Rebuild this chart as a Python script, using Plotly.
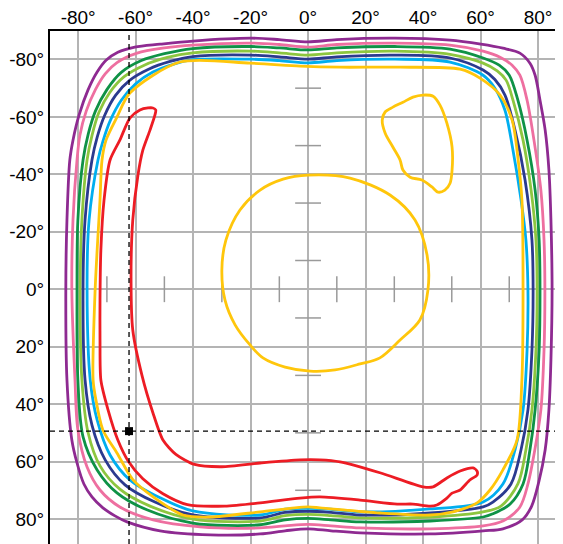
import plotly.graph_objects as go

# ---- data (degrees) ----
tick_vals = [-80, -60, -40, -20, 0, 20, 40, 60, 80]
tick_text = ["-80°", "-60°", "-40°", "-20°", "0°", "20°", "40°", "60°", "80°"]
cross_ticks = [-70, -50, -30, -10, 10, 30, 50, 70]
cross_half = 4.5
marker_x = [-62.3]
marker_y = [49.4]

purple_x = [-82.9,-81.8,-79.7,-76.6,-73.4,-70.3,-66.2,-60.3,-51.5,-40.1,-19.9,-10,0,10,30.2,49.4,60.1,67.8,73.7,77.2,79.0,80.7,82.5,83.8,84.5,84.9,84.5,83.8,82.5,80.3,77.8,74.6,67.8,60.9,42.5,18.1,8,0,-8,-16.7,-34.1,-51.5,-63.0,-67.2,-71.4,-75.2,-78.0,-80.4,-82.2,-83.9,-84.3,-83.9]
purple_y = [-45.0,-51.9,-60.6,-69.3,-75.6,-79.7,-82.5,-84.3,-85.3,-86.4,-87.4,-86.9,-86.1,-86.9,-87.4,-86.7,-85.3,-83.9,-82.2,-78.7,-74.5,-65.8,-55.4,-41.5,-24.1,0.3,24.6,42.0,55.9,67.0,75.5,80.2,83.4,84.1,85.2,84.8,84.1,83.4,84.1,85.2,85.5,84.1,81.0,78.9,76.1,72.3,67.8,60.5,52.5,31.6,0.3,-24.1]

pink_x = [-80.4,-79.4,-77.2,-74.0,-70.6,-66.5,-59.5,-50.0,-40.1,-19.9,-10,0,10,30.2,49.4,60.9,66.8,71.0,73.7,76.2,78.6,81.0,82.1,82.4,82.1,81.0,78.9,76.5,73.7,67.8,60.9,42.5,18.1,8,0,-8,-16.7,-37.6,-53.9,-65.5,-72.4,-76.9,-80.1,-81.1,-82.2,-81.8]
pink_y = [-45.0,-53.6,-62.0,-69.5,-75.0,-78.9,-82.2,-84.0,-85.0,-85.7,-85.2,-84.3,-85.2,-85.7,-85.0,-82.9,-80.8,-78.0,-74.5,-65.8,-51.9,-34.5,-17.1,0.3,21.1,42.0,55.9,67.8,75.8,80.7,82.4,83.4,83.1,82.4,81.9,82.4,83.1,82.7,80.3,75.8,69.9,61.9,49.0,31.6,0.3,-24.1]

dgreen_x = [-78.3,-76.5,-74.0,-70.0,-65.0,-58.0,-50.0,-40.1,-19.9,-10,0,10,30.2,49.4,60.9,66.5,70.0,73.0,76.2,79.0,80.4,80.7,80.4,79.0,77.2,74.8,70.3,64.3,60.9,42.5,18.1,8,0,-8,-16.7,-40.1,-56.1,-66.5,-73.4,-78.3,-80.1,-80.4,-80.1]
dgreen_y = [-45.0,-54.0,-62.0,-69.5,-75.5,-79.6,-82.0,-83.8,-84.5,-84.0,-83.3,-84.0,-84.5,-83.6,-80.5,-78.0,-74.5,-65.8,-51.9,-34.5,-17.1,0.3,21.1,42.0,55.9,67.8,74.8,78.2,79.3,80.7,81.0,80.3,79.8,80.3,82.0,81.4,76.8,70.9,62.9,51.4,31.6,0.3,-24.1]

lgreen_x = [-76.9,-75.2,-72.8,-69.0,-64.0,-57.0,-49.0,-40.1,-19.9,-10,0,10,30.2,49.4,60.9,65.8,68.9,71.3,74.8,77.6,79.3,79.7,79.3,77.9,75.8,73.0,67.1,60.9,42.5,18.1,8,0,-8,-16.7,-40.1,-55.0,-65.5,-72.4,-76.6,-78.7,-79.3,-78.7]
lgreen_y = [-45.0,-53.5,-61.5,-68.5,-74.0,-78.0,-80.7,-82.3,-82.9,-82.3,-81.5,-82.3,-82.9,-81.8,-78.7,-76.0,-72.8,-65.8,-51.9,-34.5,-17.1,0.3,21.1,42.0,55.9,67.8,75.5,77.5,79.3,79.6,78.8,78.4,78.8,80.7,80.0,75.5,69.6,61.5,49.7,31.6,0.3,-24.1]

navy_x = [-75.2,-73.4,-70.8,-67.0,-62.0,-55.5,-48.0,-40.1,-19.9,-10,0,10,30.2,49.4,60.9,65.0,68.5,72.0,75.5,77.9,78.3,77.9,76.5,74.1,70.6,64.3,60.9,42.5,18.1,8,0,-8,-16.7,-40.1,-53.3,-63.7,-70.6,-75.2,-77.6,-78.3,-77.6]
navy_y = [-45.0,-52.9,-60.5,-67.5,-72.8,-76.6,-79.3,-81.0,-81.5,-80.9,-80.1,-80.9,-81.5,-80.5,-76.3,-73.0,-67.6,-55.4,-38.0,-17.1,0.3,21.1,42.0,55.9,67.8,74.1,75.8,77.9,78.6,77.7,77.3,77.7,79.6,78.6,74.1,68.1,59.4,47.3,31.6,0.3,-24.1]

cyan_x = [-73.1,-71.4,-68.8,-65.0,-60.0,-54.0,-47.0,-40.1,-19.9,-10,0,10,30.2,49.4,60.9,65.0,68.5,71.3,74.1,75.8,76.5,76.2,74.8,72.0,67.8,60.9,42.5,18.1,8,0,-8,-16.7,-40.1,-51.5,-62.0,-68.9,-73.4,-75.8,-76.9,-76.2]
cyan_y = [-45.0,-51.5,-58.8,-65.8,-71.5,-75.6,-78.3,-79.9,-80.1,-79.6,-78.8,-79.6,-80.1,-79.1,-74.5,-70.0,-62.3,-48.4,-31.1,-17.1,0.3,21.1,42.0,55.9,67.8,74.1,76.5,77.5,76.6,76.3,76.6,78.6,77.2,72.6,66.4,57.7,45.5,31.6,0.3,-24.1]

yellow_x = [-71.7,-70.3,-66.5,-62.0,-44.6,-20.2,-2.8,11.1,32.0,52.9,59.8,66.8,71.0,73.1,74.4,74.8,74.4,72.7,67.8,63.3,58.8,50.4,42.5,25.0,4.1,0,-4.6,-16.7,-34.1,-43.5,-53.9,-60.9,-66.5,-71.4,-73.8,-74.8,-74.1,-72.4]
yellow_y = [-45.0,-51.9,-59.9,-68.3,-79.1,-78.7,-77.7,-77.3,-77.3,-76.6,-73.5,-67.6,-58.9,-45.0,-31.1,0.3,31.6,52.5,62.9,69.9,74.4,77.5,78.6,77.9,76.1,75.8,76.1,77.5,79.3,78.6,72.3,66.4,57.0,49.0,38.6,31.6,0.3,-31.1]

yellow_loop_x = [40.0,43.5,45.9,48.3,50.1,50.1,49.4,47.6,45.2,43.1,39.6,35.5,33.0,32.0,29.5,26.8,25.8,26.8,29.5,33.0,36.5]
yellow_loop_y = [-67.6,-67.2,-64.1,-57.8,-49.5,-41.5,-36.9,-34.5,-33.8,-35.6,-38.0,-39.0,-41.5,-45.0,-49.5,-54.4,-58.9,-61.7,-63.4,-65.1,-66.9]

yellow_center_x = [0,14.6,28.5,37.2,41.4,41.7,38.9,32.0,25.0,18.1,9.4,0.7,-8.0,-15.7,-20.2,-25.4,-28.9,-30.0,-28.6,-23.7,-16.7,-8.7]
yellow_center_y = [-39.7,-38.7,-32.8,-24.1,-11.9,0.3,10.7,17.7,23.9,26.0,28.1,28.5,27.1,23.9,19.4,12.4,3.8,-6.7,-17.1,-27.6,-34.5,-38.3]

red_x = [-55.7,-58.5,-62.0,-65.5,-68.9,-71.0,-72.1,-72.4,-72.4,-72.1,-69.6,-66.2,-62.5,-57.5,-50.5,-42.0,-29.0,-16.7,-2.8,4.1,18.1,31.0,36.5,42.5,44.8,48.3,50.1,52.9,56.3,58.8,58.8,57.4,52.9,48.3,43.5,40.0,25.0,11.1,4.1,-2.8,-16.7,-30.0,-39.5,-46.0,-50.5,-54.0,-57.8,-61.0,-61.6,-61.0,-59.2,-57.5,-55.0,-53.3,-53.0,-54.0]
red_y = [-63.1,-62.4,-59.6,-51.9,-45.0,-31.0,-13.6,3.8,17.7,31.6,42.0,52.5,60.0,66.0,71.2,75.0,75.5,74.4,72.7,72.3,73.4,74.8,74.8,75.5,75.1,72.7,71.0,69.9,66.4,64.7,63.3,62.2,63.3,65.7,68.8,68.8,63.9,60.1,59.4,59.4,60.5,61.8,61.0,57.5,52.5,43.0,30.0,14.2,-3.2,-24.1,-39.7,-48.4,-55.4,-60.6,-62.4,-63.1]

contours = [
    (purple_x, purple_y, "#8E2A91", 0.9),
    (pink_x, pink_y, "#EE6FA0", 0.9),
    (dgreen_x, dgreen_y, "#0F9246", 0.9),
    (lgreen_x, lgreen_y, "#8DC63F", 0.9),
    (navy_x, navy_y, "#2B3A8F", 0.9),
    (cyan_x, cyan_y, "#00AEEF", 0.9),
    (yellow_x, yellow_y, "#FFC60B", 0.8),
    (yellow_loop_x, yellow_loop_y, "#FFC60B", 0.9),
    (yellow_center_x, yellow_center_y, "#FFC60B", 0.9),
    (red_x, red_y, "#ED1C24", 0.7),
]

fig = go.Figure()

# centre cross ticks
tx, ty = [], []
for v in cross_ticks:
    tx += [-cross_half, cross_half, None]
    ty += [v, v, None]
    tx += [v, v, None]
    ty += [-cross_half, cross_half, None]
fig.add_trace(go.Scatter(x=tx, y=ty, mode="lines",
                         line=dict(color="#9a9a9a", width=1.5),
                         hoverinfo="skip", showlegend=False))

for xs, ys, col, sm in contours:
    fig.add_trace(go.Scatter(x=list(xs) + [xs[0]], y=list(ys) + [ys[0]],
                             mode="lines",
                             line=dict(color=col, width=2.8, shape="spline", smoothing=sm),
                             hoverinfo="skip", showlegend=False))

fig.add_trace(go.Scatter(x=marker_x, y=marker_y, mode="markers",
                         marker=dict(symbol="square", size=8, color="black"),
                         hoverinfo="skip", showlegend=False))

fig.add_shape(type="line", xref="x", yref="paper", x0=marker_x[0], x1=marker_x[0], y0=0, y1=1,
              line=dict(color="black", width=1.3, dash="5px,4px"))
fig.add_shape(type="line", xref="paper", yref="y", x0=0, x1=1, y0=marker_y[0], y1=marker_y[0],
              line=dict(color="black", width=1.3, dash="5px,4px"))

axis_common = dict(
    tickvals=tick_vals, ticktext=tick_text,
    showgrid=True, gridcolor="#b4b4b4", gridwidth=1.5,
    zeroline=False, showline=True, linecolor="black", linewidth=2,
    ticks="", automargin=False,
    tickfont=dict(family="Liberation Sans, Arial, sans-serif", size=19, color="black"),
)

fig.update_layout(
    width=555, height=536,
    margin=dict(l=42, r=0, t=23, b=0),
    paper_bgcolor="white", plot_bgcolor="white",
    showlegend=False, hovermode=False,
    xaxis=dict(range=[-89.8, 88.7], side="top", ticklabelstandoff=-3, **axis_common),
    yaxis=dict(range=[88.7, -89.9], side="left", **axis_common),
)

fig.write_html("out.html")
